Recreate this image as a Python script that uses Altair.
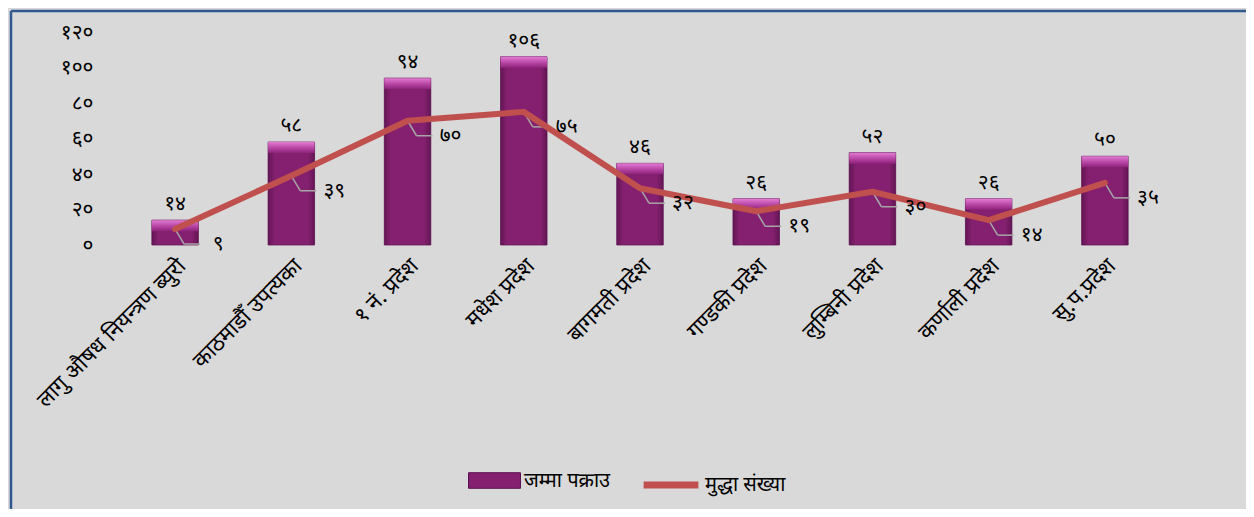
import json
import altair as alt
import pandas as pd

categories = [
    "लागु औषध नियन्त्रण ब्युरो",
    "काठमाडौँ उपत्यका",
    "१ नं. प्रदेश",
    "मधेश प्रदेश",
    "बागमती प्रदेश",
    "गण्डकी प्रदेश",
    "लुम्बिनी प्रदेश",
    "कर्णाली प्रदेश",
    "सु.प.प्रदेश",
]
arrests = [14, 58, 94, 106, 46, 26, 52, 26, 50]
cases = [9, 39, 70, 75, 32, 19, 30, 14, 35]
y_ticks = [0, 20, 40, 60, 80, 100, 120]
y_tick_labels = ["०", "२०", "४०", "६०", "८०", "१००", "१२०"]
series_bar = "जम्मा पक्राउ"
series_line = "मुद्धा संख्या"

DEV = str.maketrans("0123456789", "०१२३४५६७८९")

df = pd.DataFrame({
    "cat": categories,
    "arrests": arrests,
    "cases": cases,
    "arrests_lbl": [str(v).translate(DEV) for v in arrests],
    "cases_lbl": [str(v).translate(DEV) for v in cases],
})

FONT = "Noto Sans Devanagari, Noto Sans, sans-serif"
x_enc = alt.X(
    "cat:N", sort=categories, title=None,
    scale=alt.Scale(paddingInner=0.6, paddingOuter=0.3),
    axis=alt.Axis(labelAngle=-45, labelFontSize=22, labelColor="#000000",
                  domain=False, ticks=False, labelPadding=10, labelFont=FONT,
                  labelLimit=400, labelOverlap=False),
)
y_scale = alt.Scale(domain=[0, 120])
y_axis = alt.Axis(values=y_ticks, labelExpr=json.dumps(y_tick_labels, ensure_ascii=False) + "[datum.value/20]",
                  domain=False, ticks=False, grid=False, labelFontSize=21,
                  labelColor="#000000", labelPadding=24, labelFont=FONT, title=None,
                  labelOverlap=False, tickCount=7)


def Y(field):
    return alt.Y(field, scale=y_scale, axis=y_axis)


base = alt.Chart(df)

bars = base.mark_bar(stroke="#6a1a5e", strokeWidth=0.8).encode(
    x=x_enc,
    y=Y("arrests:Q"),
    fill=alt.Fill("s:N", scale=alt.Scale(domain=[series_bar], range=["#84206F"]),
                  legend=alt.Legend(orient="none", legendX=351, legendY=422, title=None,
                                    symbolType="M-1,-0.3H1V0.3H-1Z", symbolSize=2700,
                                    symbolStrokeColor="#5a1050", symbolStrokeWidth=1,
                                    labelFontSize=20, labelFont=FONT, labelColor="#000000",
                                    labelOffset=3)),
).transform_calculate(s=f"'{series_bar}'")

side_shade = base.mark_bar(
    fill=alt.Gradient(gradient="linear", x1=0, x2=1, y1=0, y2=0, stops=[
        alt.GradientStop(color="rgba(40,0,35,0.35)", offset=0),
        alt.GradientStop(color="rgba(40,0,35,0.0)", offset=0.14),
        alt.GradientStop(color="rgba(40,0,35,0.0)", offset=0.86),
        alt.GradientStop(color="rgba(40,0,35,0.35)", offset=1),
    ])
).encode(x=x_enc, y=Y("arrests:Q"))

top_bevel = base.mark_bar(
    y2Offset=11,
    fill=alt.Gradient(gradient="linear", x1=0, x2=0, y1=0, y2=1, stops=[
        alt.GradientStop(color="#e27bd3", offset=0),
        alt.GradientStop(color="#b2409f", offset=0.6),
        alt.GradientStop(color="#8d2379", offset=1),
    ])
).encode(x=x_enc, y=Y("arrests:Q"), y2="arrests:Q")

bar_labels = base.mark_text(dy=-16, fontSize=21, color="#000000", font=FONT).encode(
    x=x_enc, y=Y("arrests:Q"), text="arrests_lbl:N")

line = base.mark_line(strokeWidth=6, strokeCap="round", strokeJoin="round").encode(
    x=x_enc,
    y=Y("cases:Q"),
    stroke=alt.Stroke("s:N", scale=alt.Scale(domain=[series_line], range=["#C0504D"]),
                      legend=alt.Legend(orient="none", legendX=523, legendY=422, title=None,
                                        symbolType="stroke", symbolSize=3000,
                                        symbolStrokeWidth=7,
                                        labelFontSize=20, labelFont=FONT, labelColor="#000000",
                                        labelOffset=3)),
).transform_calculate(s=f"'{series_line}'")

leader_diag = base.mark_rule(color="#a6a6a6", strokeWidth=1.5, x2Offset=9, y2Offset=15).encode(
    x=x_enc, x2="cat:N", y=Y("cases:Q"), y2="cases:Q")
leader_flat = base.mark_rule(color="#a6a6a6", strokeWidth=1.5, xOffset=9, x2Offset=25,
                             yOffset=15, y2Offset=15).encode(
    x=x_enc, x2="cat:N", y=Y("cases:Q"), y2="cases:Q")

line_labels = base.mark_text(dx=43, dy=15, fontSize=21, color="#000000", font=FONT).encode(
    x=x_enc, y=Y("cases:Q"), text="cases_lbl:N")

frame_df = pd.DataFrame({"k": [0]})
frame_top = alt.Chart(frame_df).mark_rule(color="#2F5A8F", strokeWidth=2.5).encode(
    x=alt.value(-106), x2=alt.value(1129), y=alt.value(-21))
frame_left = alt.Chart(frame_df).mark_rule(color="#2F5A8F", strokeWidth=2.5).encode(
    x=alt.value(-106), y=alt.value(-21), y2=alt.value(477))

chart = alt.layer(
    bars, side_shade, top_bevel, bar_labels, leader_diag, leader_flat, line, line_labels,
    frame_top, frame_left,
).resolve_scale(fill="independent", stroke="independent").properties(
    width=1046, height=213,
    autosize=alt.AutoSizeParams(type="none"),
    padding={"left": 109, "top": 24, "right": 83, "bottom": 264},
    background="#D9D9D9",
).configure_view(stroke=None)

chart.save("out.html", embed_options={"renderer": "svg", "actions": False})
